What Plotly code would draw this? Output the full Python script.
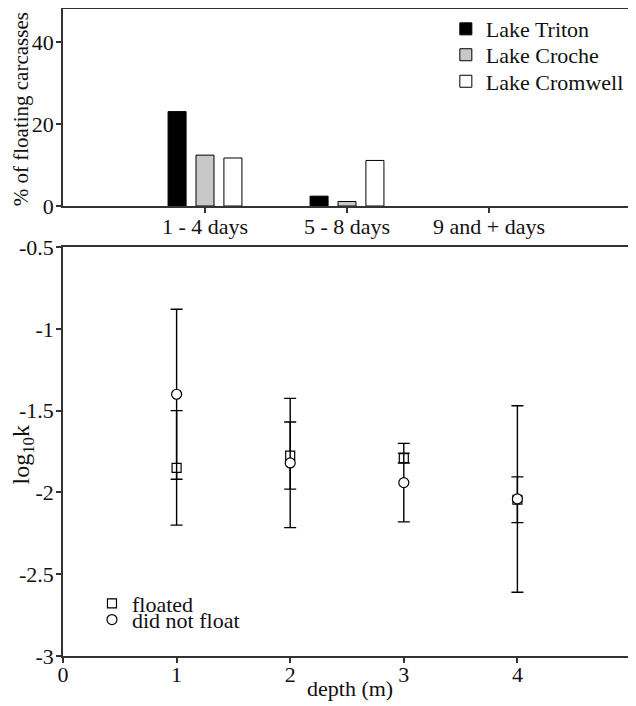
import plotly.graph_objects as go

# ---- data: top panel (bars) ----
categories = ["1 - 4 days", "5 - 8 days", "9 and + days"]
lake_names = ["Lake Triton", "Lake Croche", "Lake Cromwell"]
triton = [23.0, 2.4, 0.0]
croche = [12.4, 1.1, 0.0]
cromwell = [11.7, 11.1, 0.0]

# ---- data: bottom panel (log10 k vs depth) ----
depth = [1, 2, 3, 4]
floated_mean = [-1.85, -1.775, -1.79, -2.045]
floated_err = [0.35, 0.205, 0.03, 0.14]
notfloat_mean = [-1.40, -1.82, -1.94, -2.04]
notfloat_err = [0.52, 0.395, 0.24, 0.57]

y2_tickvals = [-0.5, -1, -1.5, -2, -2.5, -3]
y2_ticktext = ["-0.5", "-1", "-1.5", "-2", "-2.5", "-3"]
y1_tickvals = [0, 20, 40]

FONT = "Liberation Serif, Times New Roman, Times, serif"
AX = "#333333"
TXT = "#111111"
fig = go.Figure()

bar_colors = ["#000000", "#c8c8c8", "#ffffff"]
bar_legends = ["legend", "legend2", "legend3"]
for name, vals, col, lg in zip(lake_names, [triton, croche, cromwell], bar_colors, bar_legends):
    fig.add_trace(go.Bar(
        x=categories, y=vals, name=name, xaxis="x", yaxis="y",
        marker=dict(color=col,
                    line=dict(color="#000000", width=[1 if v > 0 else 0 for v in vals])),
        legend=lg,
    ))

fig.add_trace(go.Scatter(
    x=depth, y=floated_mean, name="floated", mode="markers", xaxis="x2", yaxis="y2",
    marker=dict(symbol="square", size=9, color="white", line=dict(color="black", width=1.2)),
    error_y=dict(type="data", array=floated_err, color="black", thickness=1.4, width=6),
    legend="legend4",
))
fig.add_trace(go.Scatter(
    x=depth, y=notfloat_mean, name="did not float", mode="markers", xaxis="x2", yaxis="y2",
    marker=dict(symbol="circle", size=10, color="white", line=dict(color="black", width=1.2)),
    error_y=dict(type="data", array=notfloat_err, color="black", thickness=1.4, width=6),
    legend="legend5",
))

axis_common = dict(showline=True, linecolor=AX, linewidth=1.5, mirror=True,
                   ticks="outside", ticklen=5, tickwidth=1.5, tickcolor=AX,
                   showgrid=False, zeroline=False, automargin=False,
                   tickfont=dict(family=FONT, size=22, color=TXT))


def leg(x, y):
    return dict(x=x, y=y, xanchor="left", yanchor="middle",
                bgcolor="rgba(0,0,0,0)", borderwidth=0,
                font=dict(family=FONT, size=22, color=TXT))


# page body adds an 8px offset, so the figure is 8px smaller than the window
fig.update_layout(
    template="none",
    width=628, height=698,
    margin=dict(l=55, r=5, t=1, b=50, autoexpand=False),
    paper_bgcolor="white", plot_bgcolor="white",
    font=dict(family=FONT, size=22, color=TXT),
    barmode="group", bargap=0.41, bargroupgap=0.355,
    xaxis=dict(domain=[0, 1], anchor="y", type="category",
               categoryorder="array", categoryarray=categories,
               range=[-1, 3], ticklabelstandoff=-5, **axis_common),
    yaxis=dict(domain=[0.6955, 1], anchor="x", range=[0, 48],
               tickvals=y1_tickvals, ticklabelstandoff=-2, **axis_common),
    xaxis2=dict(domain=[0, 1], anchor="y2", range=[0, 5], dtick=1,
                ticklabelstandoff=-7, **axis_common),
    yaxis2=dict(domain=[0, 0.6321], anchor="x2", range=[-3, -0.5],
                tickvals=y2_tickvals, ticktext=y2_ticktext, ticklabelstandoff=-2,
                **axis_common),
    legend=leg(0.674, 0.969),
    legend2=leg(0.674, 0.929),
    legend3=leg(0.674, 0.888),
    legend4=leg(0.051, 0.081),
    legend5=leg(0.051, 0.056),
    showlegend=True,
    annotations=[
        dict(text="% of floating carcasses", xref="paper", yref="paper",
             x=-0.074, y=0.845, xanchor="center", yanchor="middle",
             textangle=-90, showarrow=False, font=dict(family=FONT, size=21, color=TXT)),
        dict(text="log<sub>10</sub>k", xref="paper", yref="paper",
             x=-0.071, y=0.311, xanchor="center", yanchor="middle",
             textangle=-90, showarrow=False, font=dict(family=FONT, size=24, color=TXT)),
        dict(text="depth (m)", xref="paper", yref="paper",
             x=0.505, y=-0.05, xanchor="center", yanchor="middle",
             showarrow=False, font=dict(family=FONT, size=22, color=TXT)),
    ],
)

fig.write_html("out.html")
